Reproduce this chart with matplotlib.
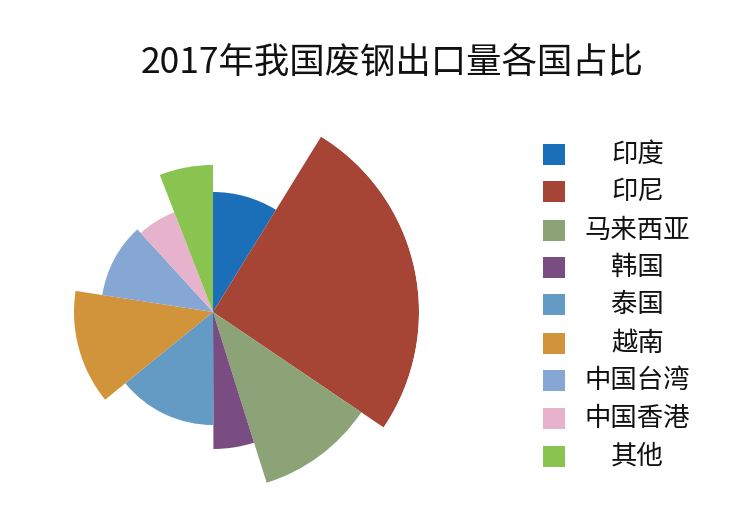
import numpy as np
import matplotlib
matplotlib.use("Agg")
import matplotlib.pyplot as plt
from matplotlib.patches import Rectangle

plt.rcParams['font.family'] = ['Noto Sans CJK SC', 'DejaVu Sans']

categories = ["印度", "印尼", "马来西亚", "韩国", "泰国", "越南", "中国台湾", "中国香港", "其他"]
shares = [8.8, 25.7, 10.7, 4.8, 14.2, 13.3, 10.8, 5.9, 5.9]      # angular share (%)
radius_values = [120, 206, 179, 137, 113, 139, 112, 107, 147]    # relative radius
colors = ["#1B6FB8", "#A64536", "#8BA376", "#7A4D82", "#639BC4",
          "#D1943A", "#86A6D4", "#E6B2CC", "#8AC450"]
title = "2017年我国废钢出口量各国占比"

W, H = 756, 530
fig = plt.figure(figsize=(W / 100, H / 100), dpi=100)
fig.patch.set_facecolor("white")

cx, cy, R = 213, 312, 206  # pixel centre and max radius
ax = fig.add_axes([(cx - R) / W, (H - cy - R) / H, 2 * R / W, 2 * R / H], projection="polar")
ax.set_theta_zero_location("N")
ax.set_theta_direction(-1)

widths = np.deg2rad(np.array(shares) / sum(shares) * 360)
lefts = np.concatenate([[0], np.cumsum(widths)[:-1]])
ax.bar(lefts, radius_values, width=widths, align="edge", color=colors, linewidth=0)
ax.set_ylim(0, max(radius_values))
ax.set_axis_off()

fig.text(392 / W, 1 - 63 / H, title, ha="center", va="center", fontsize=25.5, color="#111111")

# legend
row_y = [154, 191.7, 230, 267, 304.5, 343, 380.5, 418.5, 456.3]
for name, col, y in zip(categories, colors, row_y):
    fig.patches.append(Rectangle(((543) / W, 1 - (y + 10.5) / H), 22 / W, 21 / H,
                                 transform=fig.transFigure, facecolor=col, edgecolor="none"))
    fig.text(637.5 / W, 1 - y / H, name, ha="center", va="center", fontsize=19, color="#111111")

fig.savefig("out.png", dpi=100, facecolor="white")
